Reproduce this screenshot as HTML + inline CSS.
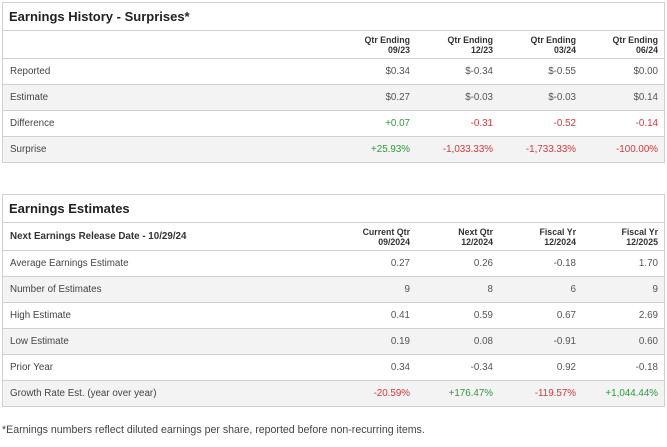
<!DOCTYPE html>
<html><head><style>
body{margin:0;width:667px;height:447px;background:#fff;font-family:"Liberation Sans",sans-serif;color:#333;position:relative;overflow:hidden}
.box{position:absolute;left:2px;width:661px;border:1px solid #d0d0d0}
.title{height:27px;line-height:27px;padding-left:6px;font-size:13px;font-weight:bold;color:#222;border-bottom:1px solid #d0d0d0}
.row{position:relative;height:25px;border-bottom:1px solid #d0d0d0;font-size:9.8px;line-height:25px}
.row:last-child{border-bottom:none}
.g{background:#f3f3f3}
.row .l{position:absolute;left:7px;color:#444}
.row .c{position:absolute;width:80px;text-align:right;color:#555}
.hd{height:27px;font-size:8.8px;font-weight:bold;color:#333;line-height:10px}
.hd .c{top:4px;color:#333}
.hd .l{top:9px;line-height:10px;left:7px;font-size:9.8px;color:#333}
.c1{left:327px}.c2{left:410px}.c3{left:493px}.c4{left:575px}
.gr{color:#2e9a3c!important}.rd{color:#d9383a!important}
.foot{position:absolute;left:2px;top:424px;font-size:10.6px;color:#444}
</style></head><body>
<div class="box" style="top:2px">
<div class="title">Earnings History - Surprises*</div>
<div class="row hd"><span class="c c1">Qtr Ending<br>09/23</span><span class="c c2">Qtr Ending<br>12/23</span><span class="c c3">Qtr Ending<br>03/24</span><span class="c c4">Qtr Ending<br>06/24</span></div>
<div class="row"><span class="l">Reported</span><span class="c c1">$0.34</span><span class="c c2">$-0.34</span><span class="c c3">$-0.55</span><span class="c c4">$0.00</span></div>
<div class="row g"><span class="l">Estimate</span><span class="c c1">$0.27</span><span class="c c2">$-0.03</span><span class="c c3">$-0.03</span><span class="c c4">$0.14</span></div>
<div class="row"><span class="l">Difference</span><span class="c c1 gr">+0.07</span><span class="c c2 rd">-0.31</span><span class="c c3 rd">-0.52</span><span class="c c4 rd">-0.14</span></div>
<div class="row g"><span class="l">Surprise</span><span class="c c1 gr">+25.93%</span><span class="c c2 rd">-1,033.33%</span><span class="c c3 rd">-1,733.33%</span><span class="c c4 rd">-100.00%</span></div>
</div>
<div class="box" style="top:194px">
<div class="title">Earnings Estimates</div>
<div class="row hd"><span class="l">Next Earnings Release Date - 10/29/24</span><span class="c c1">Current Qtr<br>09/2024</span><span class="c c2">Next Qtr<br>12/2024</span><span class="c c3">Fiscal Yr<br>12/2024</span><span class="c c4">Fiscal Yr<br>12/2025</span></div>
<div class="row"><span class="l">Average Earnings Estimate</span><span class="c c1">0.27</span><span class="c c2">0.26</span><span class="c c3">-0.18</span><span class="c c4">1.70</span></div>
<div class="row g"><span class="l">Number of Estimates</span><span class="c c1">9</span><span class="c c2">8</span><span class="c c3">6</span><span class="c c4">9</span></div>
<div class="row"><span class="l">High Estimate</span><span class="c c1">0.41</span><span class="c c2">0.59</span><span class="c c3">0.67</span><span class="c c4">2.69</span></div>
<div class="row g"><span class="l">Low Estimate</span><span class="c c1">0.19</span><span class="c c2">0.08</span><span class="c c3">-0.91</span><span class="c c4">0.60</span></div>
<div class="row"><span class="l">Prior Year</span><span class="c c1">0.34</span><span class="c c2">-0.34</span><span class="c c3">0.92</span><span class="c c4">-0.18</span></div>
<div class="row g"><span class="l">Growth Rate Est. (year over year)</span><span class="c c1 rd">-20.59%</span><span class="c c2 gr">+176.47%</span><span class="c c3 rd">-119.57%</span><span class="c c4 gr">+1,044.44%</span></div>
</div>
<div class="foot">*Earnings numbers reflect diluted earnings per share, reported before non-recurring items.</div>
</body></html>
